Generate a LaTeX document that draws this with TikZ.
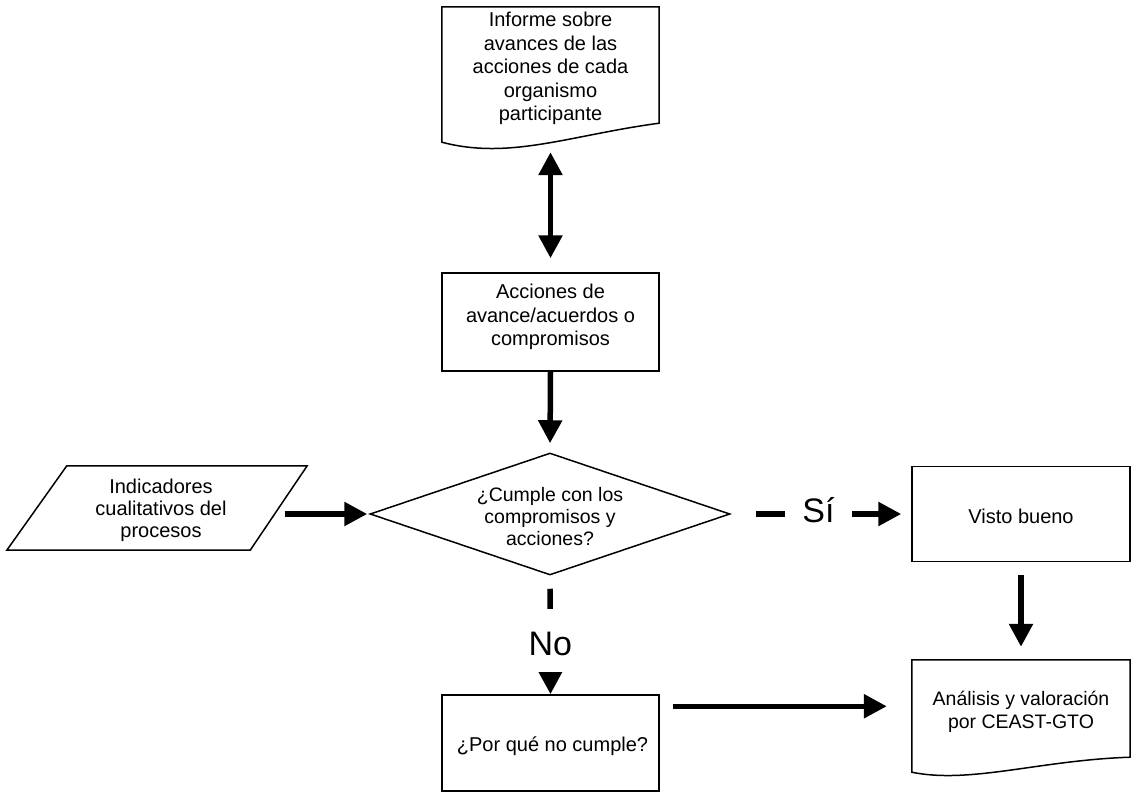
\documentclass[tikz,border=0pt]{standalone}
\usepackage{fontspec}
\setmainfont{Liberation Sans}
\usetikzlibrary{arrows.meta,calc,shapes.geometric}
\begin{document}
\begin{tikzpicture}[x=1pt,y=-1pt,
  outline/.style={draw=black, line width=1.5pt, line join=miter},
  frame/.style={draw=none, inner sep=0pt},
  txt/.style={align=center, font=\fontsize{20}{23.5}\selectfont, inner sep=0pt},
  arr/.style={line width=5.5pt, -{Triangle[length=23pt,width=23pt]}},
  darr/.style={line width=5.5pt, {Triangle[length=23pt,width=23pt]}-{Triangle[length=23pt,width=23pt]}},
  lab/.style={fill=white, font=\fontsize{34}{38}\selectfont, inner sep=0pt},
]
\useasboundingbox[fill=white] (0,0) rectangle (1136,792);

% Informe (document shape)
\node[frame, minimum width=217pt, minimum height=135pt] (inf) at (550.5,74.5) {};
\draw[outline] (inf.south west) -- (inf.north west) -- (inf.north east)
  -- ($(inf.south east)+(0,-19)$)
  .. controls ($(inf.south west)+(128,-7)$) and ($(inf.south west)+(68,18)$) .. (inf.south west) -- cycle;
\node[txt] (infT) at ($(inf.center)+(0,-6)$) {Informe sobre\\avances de las\\acciones de cada\\organismo\\participante};

% Acciones
\node[outline, minimum width=217pt, minimum height=98pt] (acc) at (550.5,322) {};
\node[txt] (accT) at (550.5,317) {Acciones de\\avance/acuerdos o\\compromisos};

% Decision
\node[outline, diamond, minimum width=360pt, minimum height=122pt, inner sep=0pt] (dec) at (550,514) {};
\node[txt, font=\fontsize{19.5}{22}\selectfont] (decT) at (550,517) {¿Cumple con los\\compromisos y\\acciones?};

% Indicadores (parallelogram)
\node[frame, minimum width=300pt, minimum height=84pt] (ind) at (157,508) {};
\draw[outline] ($(ind.north west)+(60,0)$) -- (ind.north east) -- ($(ind.south east)+(-57,0)$) -- (ind.south west) -- cycle;
\node[txt, font=\fontsize{20}{22}\selectfont] (indT) at (161,510) {Indicadores\\cualitativos del\\procesos};

% Visto bueno
\node[outline, minimum width=218pt, minimum height=95pt] (vb) at (1021,514) {};
\node[txt] (vbT) at (1021,516) {Visto bueno};

% Por que no cumple
\node[outline, minimum width=217pt, minimum height=96pt] (por) at (550.5,743) {};
\node[txt] (porT) at (552.5,746) {¿Por qué no cumple?};

% Analisis (document shape)
\node[frame, minimum width=218pt, minimum height=112pt] (ana) at (1021,716) {};
\draw[outline] (ana.south west) -- (ana.north west) -- (ana.north east)
  -- ($(ana.south east)+(0,-15)$)
  .. controls ($(ana.south west)+(128,-12)$) and ($(ana.south west)+(58,12)$) .. (ana.south west) -- cycle;
\node[txt, font=\fontsize{19.5}{23}\selectfont] (anaT) at (1021,711.5) {Análisis y valoración\\por CEAST-GTO};

% Connectors
\draw[darr, shorten <=10pt, shorten >=14pt] (inf.south) -- (acc.north);
\draw[arr, shorten >=9pt] (acc.south) -- (dec.north);
\draw[arr, shorten >=2pt] ($(ind.east|-dec.west)+(-22,0)$) -- (dec.west);
\draw[arr, shorten <=25pt, shorten >=10pt] (dec.east) -- node[lab, pos=0.486, minimum width=67pt, minimum height=40pt, text height=24pt, text depth=7pt] (si) {Sí} (vb.west);
\draw[arr, shorten <=13pt] (dec.south) -- node[lab, pos=0.546, minimum width=50pt, minimum height=63pt, text height=30pt, text depth=0pt] (no) {No} (por.north);
\draw[arr, shorten <=13pt, shorten >=13pt] (vb.south) -- (ana.north);
\draw[arr, shorten <=13pt, shorten >=25pt] ($(por.north east)+(0,12)$) -- ($(ana.west|-por.north east)+(0,12)$);
\end{tikzpicture}
\end{document}
